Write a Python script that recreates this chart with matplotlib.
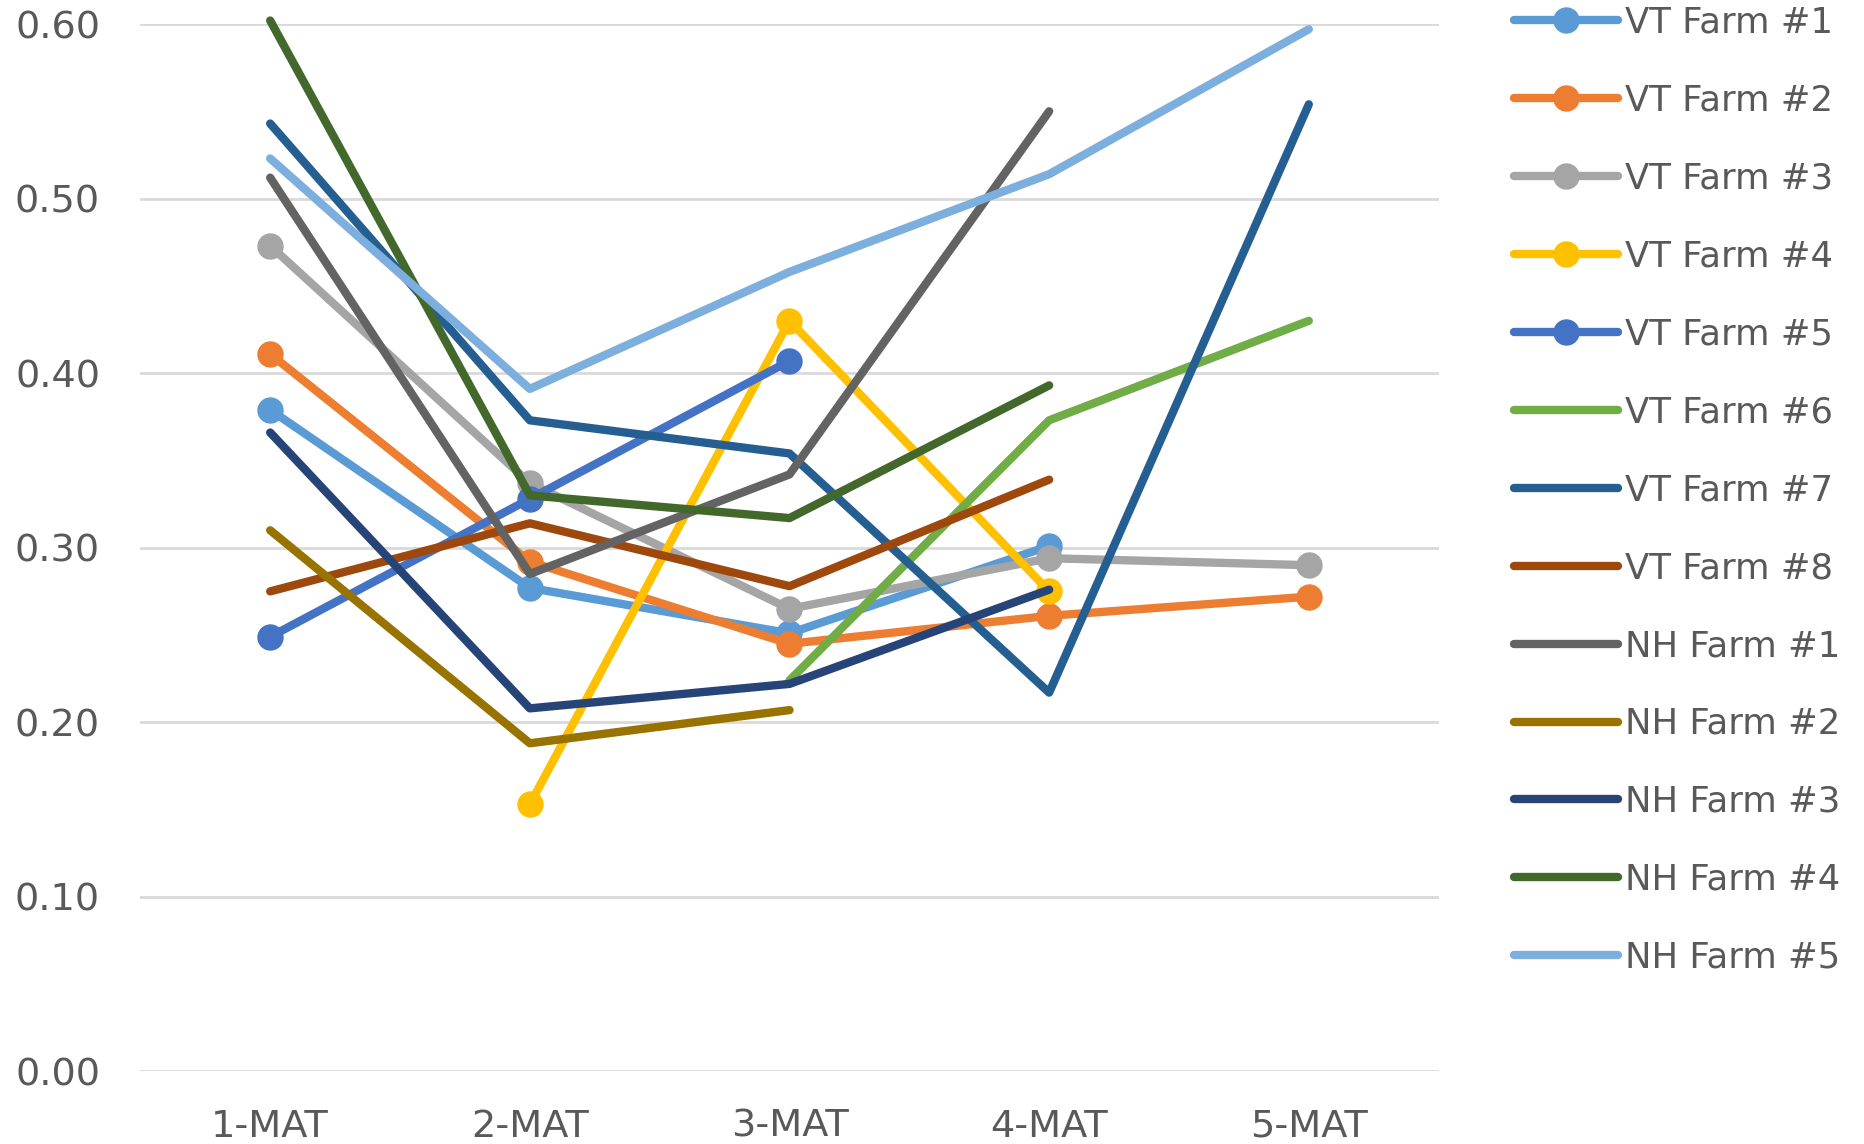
import numpy as np
import matplotlib.pyplot as plt

nan = np.nan

categories = ['1-MAT', '2-MAT', '3-MAT', '4-MAT', '5-MAT']

vt_farm_1 = [0.379, 0.277, 0.251, 0.301, nan]
vt_farm_2 = [0.411, 0.292, 0.245, 0.261, 0.272]
vt_farm_3 = [0.473, 0.337, 0.265, 0.294, 0.290]
vt_farm_4 = [nan, 0.153, 0.430, 0.275, nan]
vt_farm_5 = [0.249, 0.328, 0.407, nan, nan]
vt_farm_6 = [nan, nan, 0.224, 0.373, 0.430]
vt_farm_7 = [0.543, 0.373, 0.354, 0.217, 0.554]
vt_farm_8 = [0.275, 0.314, 0.278, 0.339, nan]
nh_farm_1 = [0.512, 0.285, 0.342, 0.550, nan]
nh_farm_2 = [0.310, 0.188, 0.207, nan, nan]
nh_farm_3 = [0.366, 0.208, 0.222, 0.276, nan]
nh_farm_4 = [0.602, 0.330, 0.317, 0.393, nan]
nh_farm_5 = [0.523, 0.391, 0.458, 0.514, 0.597]

series = [
    ('VT Farm #1', vt_farm_1, '#5B9BD5', True),
    ('VT Farm #2', vt_farm_2, '#ED7D31', True),
    ('VT Farm #3', vt_farm_3, '#A5A5A5', True),
    ('VT Farm #4', vt_farm_4, '#FFC000', True),
    ('VT Farm #5', vt_farm_5, '#4472C4', True),
    ('VT Farm #6', vt_farm_6, '#70AD47', False),
    ('VT Farm #7', vt_farm_7, '#255E91', False),
    ('VT Farm #8', vt_farm_8, '#9E480E', False),
    ('NH Farm #1', nh_farm_1, '#636363', False),
    ('NH Farm #2', nh_farm_2, '#997300', False),
    ('NH Farm #3', nh_farm_3, '#264478', False),
    ('NH Farm #4', nh_farm_4, '#43682B', False),
    ('NH Farm #5', nh_farm_5, '#7CAFDD', False),
]

fig = plt.figure(figsize=(18.64, 11.44), dpi=100)
ax = fig.add_axes([0.0753, 0.0634, 0.6965, 0.9156])

x = np.arange(len(categories))
for name, vals, color, marker in series:
    ax.plot(x, vals, color=color, lw=6, label=name,
            marker='o' if marker else None, markersize=18,
            solid_capstyle='round', solid_joinstyle='round', clip_on=False, zorder=3)

ax.set_xlim(-0.5, 4.5)
ax.set_ylim(0, 0.6)
ax.set_yticks(np.arange(0, 0.61, 0.1))
ax.set_yticklabels(['{:.2f}'.format(v) for v in np.arange(0, 0.61, 0.1)])
ax.set_xticks(x)
ax.set_xticklabels(categories)
ax.grid(True, axis='y', color='#D9D9D9', lw=2, zorder=0)
for s in ax.spines.values():
    s.set_visible(False)
ax.tick_params(axis='both', length=0, labelsize=27.5, labelcolor='#595959')
ax.tick_params(axis='y', pad=29)
ax.tick_params(axis='x', pad=27)

leg = ax.legend(loc='upper left', bbox_to_anchor=(1.047, 1.031), frameon=False,
                fontsize=25.5, labelspacing=1.24, handlelength=2.95, handletextpad=0.2,
                borderaxespad=0)
for t in leg.get_texts():
    t.set_color('#595959')

plt.savefig('out.png', dpi=100)
plt.close()
